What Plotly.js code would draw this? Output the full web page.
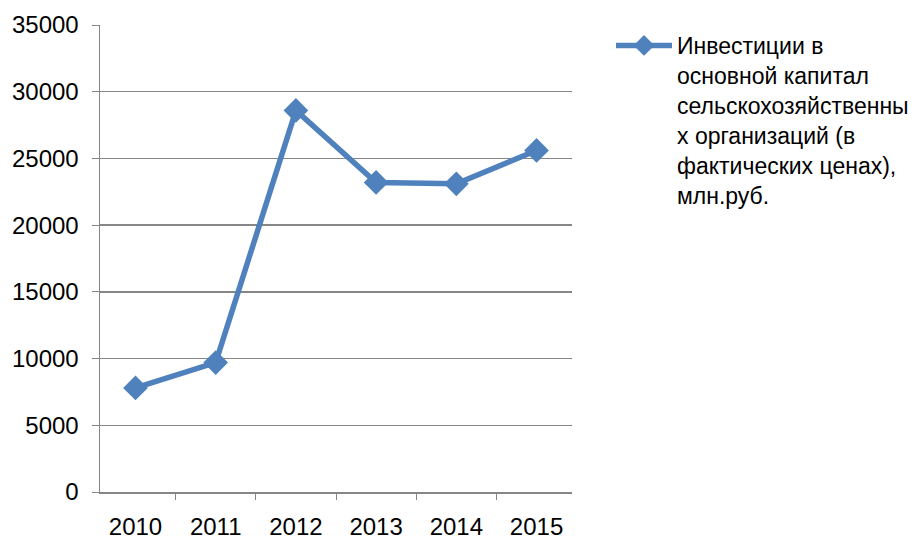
<!DOCTYPE html>
<html>
<head>
<meta charset="utf-8">
<script src="https://cdn.plot.ly/plotly-3.0.1.min.js"></script>
<style>html,body{margin:0;padding:0;background:#fff;}#chart{width:921px;height:539px;}</style>
</head>
<body>
<div id="chart"></div>
<script>
const years = ["2010", "2011", "2012", "2013", "2014", "2015"];
const investments = [7800, 9700, 28600, 23200, 23100, 25600];
const seriesName = "Инвестиции в<br>основной капитал<br>сельскохозяйственны<br>х организаций (в<br>фактических ценах),<br>млн.руб.";
const yTicks = [0, 5000, 10000, 15000, 20000, 25000, 30000, 35000];

const trace = {
  x: years,
  y: investments,
  type: "scatter",
  mode: "lines+markers",
  name: seriesName,
  line: {color: "#4F81BD", width: 5.5},
  marker: {symbol: "diamond", size: 19, color: "#4F81BD"}
};

const layout = {
  width: 921,
  height: 539,
  margin: {l: 100, r: 349, t: 25, b: 47},
  paper_bgcolor: "#fff",
  plot_bgcolor: "#fff",
  font: {family: "Liberation Sans, Arial, sans-serif", size: 24, color: "#000"},
  showlegend: true,
  legend: {
    xref: "container", yref: "container",
    x: 611 / 921, y: 1 - 24 / 539,
    xanchor: "left", yanchor: "top",
    valign: "top",
    itemwidth: 56,
    font: {size: 23, color: "#000"},
    bgcolor: "rgba(0,0,0,0)"
  },
  xaxis: {
    type: "category",
    tickson: "boundaries",
    ticks: "outside",
    ticklen: 6,
    tickcolor: "#868686",
    showline: true,
    linecolor: "#868686",
    linewidth: 1.5,
    showgrid: false,
    zeroline: false,
    tickfont: {size: 24},
    ticklabelstandoff: 13
  },
  yaxis: {
    range: [0, 35000],
    tickvals: yTicks,
    ticktext: yTicks.map(String),
    ticks: "outside",
    ticklen: 7,
    tickcolor: "#868686",
    showline: true,
    linecolor: "#868686",
    linewidth: 1.5,
    showgrid: true,
    gridcolor: "#868686",
    gridwidth: 1.5,
    zeroline: false,
    tickfont: {size: 24},
    ticklabelstandoff: 8
  }
};

Plotly.newPlot("chart", [trace], layout, {displayModeBar: false, staticPlot: true});
</script>
</body>
</html>
